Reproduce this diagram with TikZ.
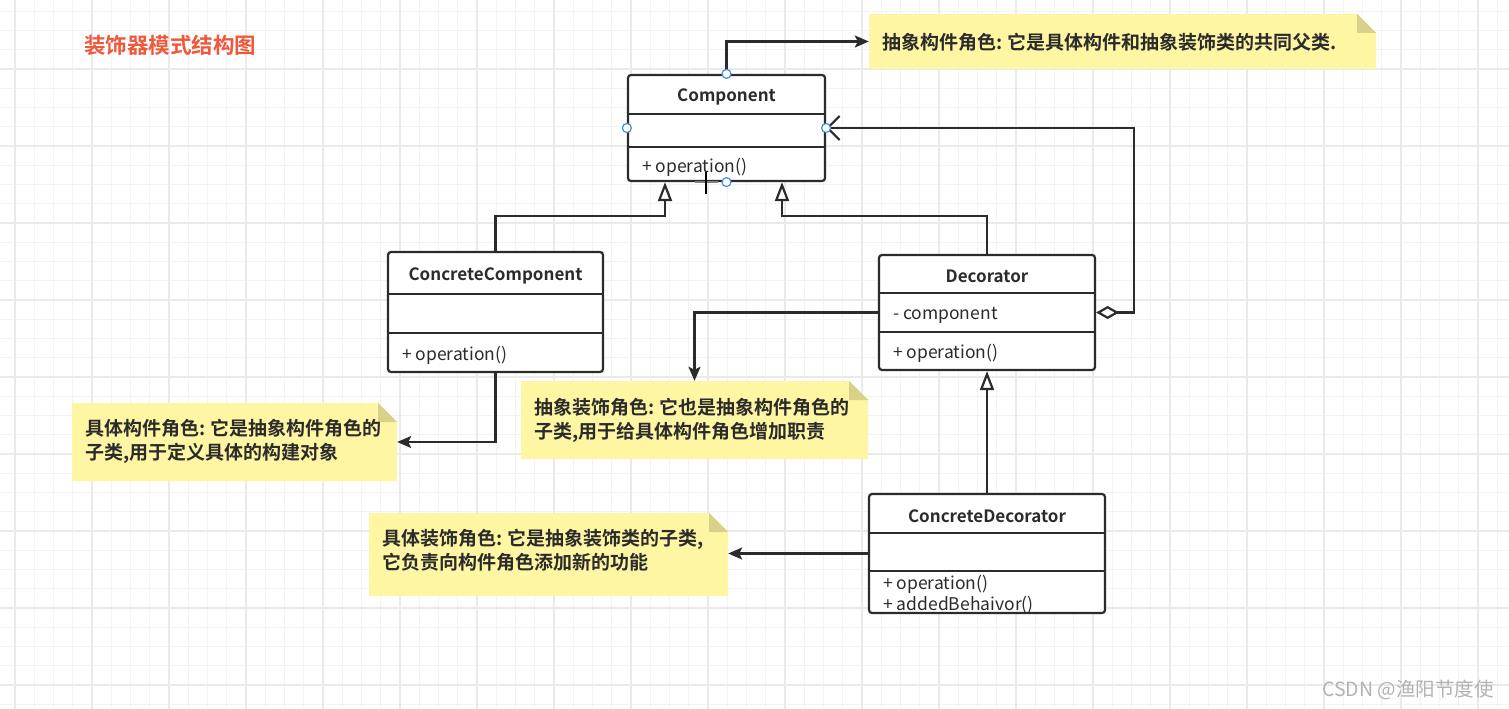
\documentclass[tikz,border=0pt]{standalone}
\usepackage{fontspec}
\setmainfont{Noto Sans CJK SC}[BoldFont={Noto Sans CJK SC Bold}]
\usetikzlibrary{arrows.meta}

\definecolor{inkgray}{HTML}{2B2B2B}
\definecolor{notefill}{HTML}{FFF6A3}
\definecolor{notefold}{HTML}{D8D18A}
\definecolor{titlered}{HTML}{F0583B}
\definecolor{handleblue}{HTML}{3D8FE3}
\definecolor{gridminor}{HTML}{F3F3F3}
\definecolor{gridmajor}{HTML}{EAEAEA}

\begin{document}
\begin{tikzpicture}[x=1pt, y=-1pt,
    umlclass/.style={draw=inkgray, line width=2.2pt, rounded corners=3pt, fill=white, inner sep=0pt},
    classname/.style={font=\fontsize{17}{20}\selectfont\bfseries, text=inkgray, inner sep=0pt},
    member/.style={font=\fontsize{17.5}{20}\selectfont, text=inkgray, anchor=west, inner sep=0pt},
    note/.style={inner sep=0pt, path picture={
        \fill[notefill] (path picture bounding box.north west)
            -- ([xshift=-19pt]path picture bounding box.north east)
            -- ([yshift=-19pt]path picture bounding box.north east)
            -- (path picture bounding box.south east)
            -- (path picture bounding box.south west) -- cycle;
        \fill[notefold] ([xshift=-19pt]path picture bounding box.north east)
            -- ([xshift=-19pt,yshift=-19pt]path picture bounding box.north east)
            -- ([yshift=-19pt]path picture bounding box.north east) -- cycle;}},
    notetext/.style={anchor=west, align=left, inner sep=0pt, text=inkgray,
        font=\fontsize{19}{24}\selectfont\bfseries},
    link/.style={draw=inkgray, line width=2.2pt, -{Stealth[length=14pt,width=12pt,inset=3pt]}},
    inherit/.style={draw=inkgray, line width=2.2pt, -{Triangle[open,length=19pt,width=14pt,fill=white]}},
    aggr/.style={draw=inkgray, line width=2.2pt,
        {Diamond[open,length=23pt,width=13pt,fill=white]}-{Straight Barb[length=12pt,width=24pt]}},
    handle/.style={draw=handleblue, fill=white, line width=1.2pt}
]
    \useasboundingbox (0,0) rectangle (1509,709);

    % grid paper
    \fill[white] (0,0) rectangle (1509,709);
    \draw[gridminor, line width=1.2pt, shift={(15,69)}] (-15,-69) grid[step=19.25pt] (1494,640);
    \draw[gridmajor, line width=1.5pt, shift={(15,69)}] (-15,-69) grid[step=77pt] (1494,640);

    \node[anchor=west, inner sep=0pt, text=titlered, font=\fontsize{21.5}{24}\selectfont\bfseries] (title) at (84,45) {装饰器模式结构图};

    % notes
    \node[note, minimum width=507pt, minimum height=55pt] (n0) at (1122.5,41.5) {};
    \node[note, minimum width=325pt, minimum height=78pt] (n1) at (234.5,442) {};
    \node[note, minimum width=347pt, minimum height=78pt] (n2) at (694.5,420) {};
    \node[note, minimum width=359pt, minimum height=83pt] (n3) at (548.5,554.5) {};

    \node[notetext] (n0-t) at ([xshift=13pt,yshift=-1pt]n0.west) {抽象构件角色: 它是具体构件和抽象装饰类的共同父类.};
    \node[notetext] (n1-t) at ([xshift=13pt,yshift=1pt]n1.west) {具体构件角色: 它是抽象构件角色的\\子类,用于定义具体的构建对象};
    \node[notetext] (n2-t) at ([xshift=13pt,yshift=0pt]n2.west) {抽象装饰角色: 它也是抽象构件角色的\\子类,用于给具体构件角色增加职责};
    \node[notetext] (n3-t) at ([xshift=13pt,yshift=4pt]n3.west) {具体装饰角色: 它是抽象装饰类的子类,\\它负责向构件角色添加新的功能};

    % classes
    \node[umlclass, minimum width=197pt, minimum height=106pt] (comp) at (726.5,128) {};
    \node[umlclass, minimum width=215pt, minimum height=120pt] (ccomp) at (495.5,312) {};
    \node[umlclass, minimum width=216pt, minimum height=115pt] (deco) at (987,312.5) {};
    \node[umlclass, minimum width=236pt, minimum height=119pt] (cdeco) at (987,553.5) {};

    \foreach \n/\ya/\yb in {comp/114/147, ccomp/294/333, deco/293/332, cdeco/533/571} {
        \draw[inkgray, line width=2.2pt] (\n.west |- 0,\ya) -- (\n.east |- 0,\ya);
        \draw[inkgray, line width=2.2pt] (\n.west |- 0,\yb) -- (\n.east |- 0,\yb);
    }

    \node[classname] (comp-t) at (comp.north |- 0,97) {Component};
    \node[classname] (ccomp-t) at (ccomp.north |- 0,276) {ConcreteComponent};
    \node[classname] (deco-t) at (deco.north |- 0,276) {Decorator};
    \node[classname] (cdeco-t) at (cdeco.north |- 0,516) {ConcreteDecorator};

    \node[member] (comp-m) at (642,167) {+ operation()};
    \node[member] (ccomp-m) at (402,355) {+ operation()};
    \node[member] (deco-a) at (893,315) {- component};
    \node[member] (deco-m) at (893,353) {+ operation()};
    \node[member] (cdeco-m) at (883,584) {+ operation()};
    \node[member] (cdeco-b) at (883,605) {+ addedBehaivor()};

    % connectors
    \coordinate (c1) at (665,216);
    \coordinate (c2) at (782,216);
    \draw[link] (comp.north) |- (n0.west);
    \draw[inherit] (ccomp.north) |- (c1) -- (c1 |- comp.south);
    \draw[inherit] (deco.north) |- (c2) -- (c2 |- comp.south);
    \draw[aggr] (deco.east) -- ++(38,0) |- (comp.east);
    \draw[link] (deco.west) -| (n2.north);
    \draw[link] (ccomp.south) |- (n1.east);
    \draw[inherit] (cdeco.north) -- (deco.south);
    \draw[link] (cdeco.west) -- (cdeco.west -| n3.east);

    % selection handles and cursor
    \foreach \a in {north, west, east, south}
        \draw[handle] (comp.\a) circle (4.5pt);
    \draw[gray, line width=2pt] (695,182) -- (718,182);
    \draw[black, line width=2pt] (706,172) -- (706,194);

    \node[anchor=east, inner sep=0pt, text=gray!60, font=\fontsize{19.5}{22}\selectfont] (mark) at (1494,690) {CSDN @渔阳节度使};
\end{tikzpicture}
\end{document}
